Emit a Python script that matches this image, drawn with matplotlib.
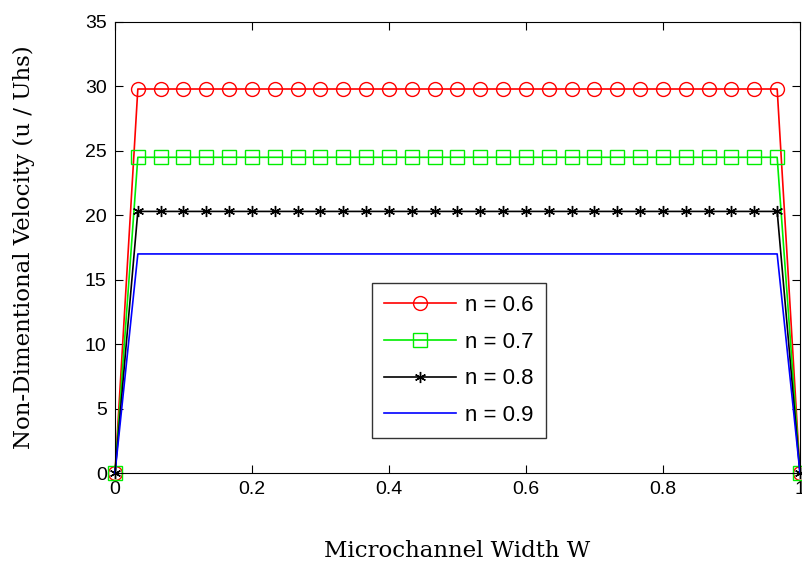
import numpy as np
import matplotlib
matplotlib.use("Agg")
import matplotlib.pyplot as plt

# =========================
# Data
# =========================
n_labels = ["n = 0.6", "n = 0.7", "n = 0.8", "n = 0.9"]
plateau = [29.8, 24.5, 20.3, 17.0]
x_pts = np.linspace(0, 1, 31)

colors = ["#ff0000", "#00ee00", "#000000", "#0000ff"]
markers = ["o", "s", (6, 2, 0), None]
msizes = [10, 10, 8, 0]

fig = plt.figure(figsize=(8.03, 5.64), dpi=100)
ax = fig.add_axes([115 / 803, 91 / 564, 685 / 803, 451 / 564])

for lab, val, c, m, ms in zip(n_labels, plateau, colors, markers, msizes):
    y = np.full_like(x_pts, val)
    y[0] = 0
    y[-1] = 0
    ax.plot(x_pts, y, color=c, lw=1.2, marker=m, markersize=ms,
            markerfacecolor="none", markeredgecolor=c, markeredgewidth=1.0,
            label=lab, clip_on=False)

ax.set_xlim(0, 1)
ax.set_ylim(0, 35)
ax.set_xticks([0, 0.2, 0.4, 0.6, 0.8, 1])
ax.set_xticklabels(["0", "0.2", "0.4", "0.6", "0.8", "1"])
ax.set_yticks(range(0, 36, 5))
ax.tick_params(direction="in", top=True, right=True, length=6, labelsize=14,
               pad=6)
for lbl in ax.get_xticklabels() + ax.get_yticklabels():
    lbl.set_family("Liberation Sans")

ax.set_xlabel("Microchannel Width W", family="DejaVu Serif", fontsize=16.5,
              labelpad=30)
ax.set_ylabel("Non-Dimentional Velocity (u / Uhs)", family="DejaVu Serif",
              fontsize=16.5, labelpad=36)

leg = ax.legend(loc="upper left", bbox_to_anchor=(257 / 685, 190 / 451),
                borderaxespad=0, frameon=True, fancybox=False,
                edgecolor="black", handlelength=3.25, handletextpad=0.4,
                borderpad=0.55, labelspacing=0.7,
                prop={"family": "Liberation Sans", "size": 16})
leg.get_frame().set_linewidth(1.0)

plt.savefig("out.png", dpi=100)
